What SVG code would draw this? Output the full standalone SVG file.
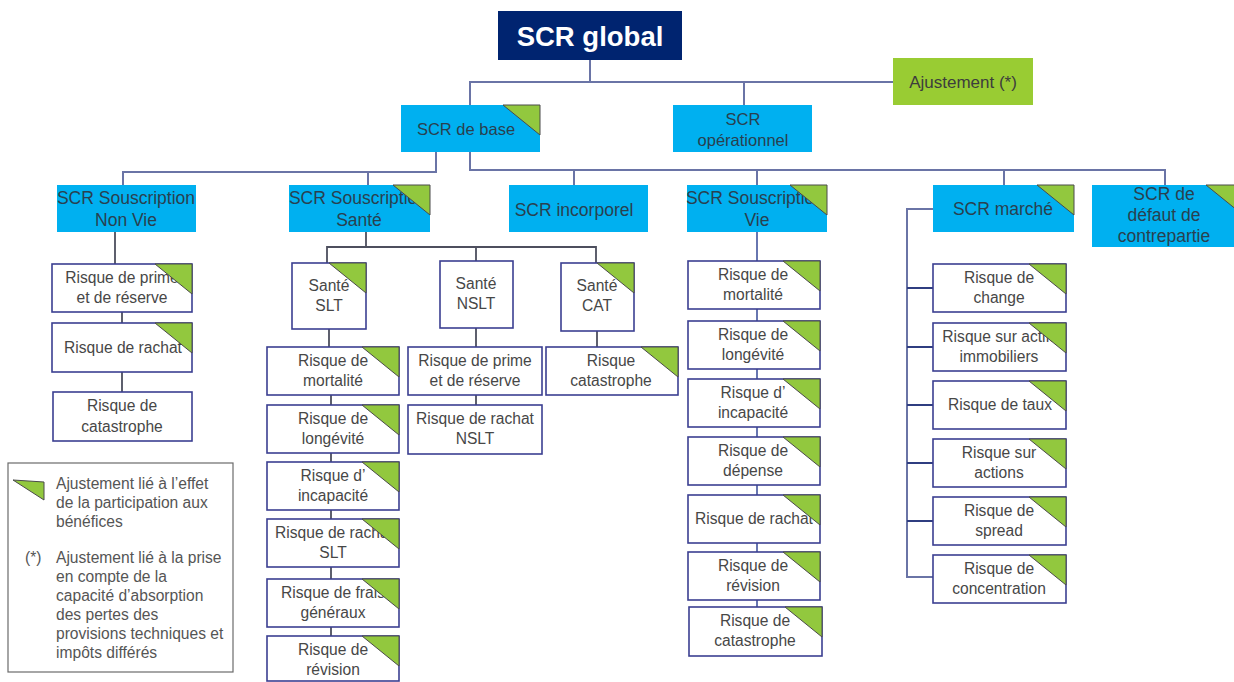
<svg xmlns="http://www.w3.org/2000/svg" xmlns:xlink="http://www.w3.org/1999/xlink" width="1234" height="682" viewBox="0 0 1234 682">
<style>
text{font-family:"Liberation Sans",Arial,sans-serif;text-anchor:middle}
.nav{fill:#002470}
.cy{fill:#00b0f0}
.gr{fill:#99cc33}
.wb{fill:#ffffff;stroke:#3b3f91;stroke-width:1.6}
.t{font-size:15.6px;fill:#474747}
.tb{font-size:17.5px;fill:#29404f}
.lg{font-size:15.6px;fill:#555555;text-anchor:start}
.c1{fill:none;stroke:#6a74a6;stroke-width:2}
.c2{fill:none;stroke:#4d4f5e;stroke-width:1.8}
.c3{fill:none;stroke:#5868a8;stroke-width:1.8}
.c4{fill:none;stroke:#2f3d80;stroke-width:2}
</style>
<defs>
<path id="tri" d="M-37,0 H0 V30 Z" fill="#92c83e" stroke="#4a4a4a" stroke-width="1"/>
</defs>
<rect width="1234" height="682" fill="#ffffff"/>

<g id="connectors">
<path class="c1" d="M590,60 V82 M470,105 V82 H893 M744,82 V105"/>
<path class="c1" d="M436,152 V172 H123 V185 M368,172 V185"/>
<path class="c1" d="M470,152 V170 H1165 V185 M574,170 V185 M757,170 V185 M1004,170 V185"/>
<path class="c2" d="M115,232 V264 M122,312 V323 M122,372 V392"/>
<path class="c2" d="M366,232 V247 M327,263 V247 H596 V263 M476,247 V261"/>
<path class="c2" d="M329,329 V347 M331,395 V405 M331,453 V462 M331,510 V519 M331,567 V579 M331,627 V636"/>
<path class="c2" d="M476,328 V347 M476,395 V405"/>
<path class="c2" d="M597,331 V347"/>
<path class="c3" d="M757,232 V261 M757,309 V321 M757,369 V379 M757,427 V437 M757,485 V495 M757,543 V552 M757,600 V607"/>
<path class="c1" d="M933,209 H907 V577 H933"/>
<path class="c4" d="M907,288 H933 M907,347 H933 M907,405 H933 M907,463 H933 M907,521 H933"/>
</g>

<g id="scr-global"><rect class="nav" x="498" y="11" width="184" height="49"/><text x="590" y="46" style="font-size:27.5px;font-weight:bold;fill:#ffffff">SCR global</text></g>
<g id="ajustement"><rect class="gr" x="893" y="58" width="140" height="47"/><text class="t" x="963" y="88" style="font-size:17px;fill:#3d3d3d">Ajustement (*)</text></g>
<g id="scr-base"><rect class="cy" x="401" y="105" width="139" height="47"/><text class="tb" x="466" y="135" style="font-size:16.5px">SCR de base</text><use xlink:href="#tri" transform="translate(540,105)"/></g>
<g id="scr-oper"><rect class="cy" x="673" y="105" width="139" height="47"/><text class="tb" x="743" y="125" style="font-size:16.5px">SCR</text><text class="tb" x="743" y="146" style="font-size:16.5px">opérationnel</text></g>

<g id="l2-nonvie"><rect class="cy" x="57" y="185" width="139" height="47"/><text class="tb" x="126" y="204">SCR Souscription</text><text class="tb" x="126" y="226">Non Vie</text></g>
<g id="l2-sante"><rect class="cy" x="289" y="185" width="141" height="47"/><text class="tb" x="358" y="204">SCR Souscription</text><text class="tb" x="359" y="226">Santé</text><use xlink:href="#tri" transform="translate(430,185)"/></g>
<g id="l2-incorp"><rect class="cy" x="509" y="185" width="139" height="47"/><text class="tb" x="574" y="216">SCR incorporel</text></g>
<g id="l2-vie"><rect class="cy" x="687" y="185" width="140" height="47"/><text class="tb" x="755" y="204">SCR Souscription</text><text class="tb" x="757" y="226">Vie</text><use xlink:href="#tri" transform="translate(827,185)"/></g>
<g id="l2-marche"><rect class="cy" x="933" y="185" width="141" height="47"/><text class="tb" x="1003" y="215">SCR marché</text><use xlink:href="#tri" transform="translate(1074,185)"/></g>
<g id="l2-defaut"><rect class="cy" x="1092" y="185" width="146" height="62"/><text class="tb" x="1164" y="200">SCR de</text><text class="tb" x="1164" y="221">défaut de</text><text class="tb" x="1164" y="242">contrepartie</text><use xlink:href="#tri" transform="translate(1243,185)"/></g>

<g id="nv-prime"><rect class="wb" x="52" y="264" width="140" height="48"/><text class="t" x="122" y="283">Risque de prime</text><text class="t" x="122" y="303">et de réserve</text><use xlink:href="#tri" transform="translate(192,264)"/></g>
<g id="nv-rachat"><rect class="wb" x="52" y="323" width="140" height="49"/><text class="t" x="123" y="353">Risque de rachat</text><use xlink:href="#tri" transform="translate(192,323)"/></g>
<g id="nv-cat"><rect class="wb" x="53" y="392" width="139" height="49"/><text class="t" x="122" y="411">Risque de</text><text class="t" x="122" y="432">catastrophe</text></g>

<g id="sante-slt"><rect class="wb" x="292" y="263" width="74" height="66"/><text class="t" x="329" y="291">Santé</text><text class="t" x="329" y="311">SLT</text><use xlink:href="#tri" transform="translate(366,263)"/></g>
<g id="sante-nslt"><rect class="wb" x="440" y="261" width="73" height="67"/><text class="t" x="476" y="289">Santé</text><text class="t" x="476" y="309">NSLT</text></g>
<g id="sante-cat"><rect class="wb" x="561" y="263" width="73" height="68"/><text class="t" x="597" y="291">Santé</text><text class="t" x="597" y="311">CAT</text><use xlink:href="#tri" transform="translate(634,263)"/></g>

<g id="slt-mort"><rect class="wb" x="267" y="347" width="132" height="48"/><text class="t" x="333" y="366">Risque de</text><text class="t" x="333" y="386">mortalité</text><use xlink:href="#tri" transform="translate(399,347)"/></g>
<g id="slt-long"><rect class="wb" x="267" y="405" width="132" height="48"/><text class="t" x="333" y="424">Risque de</text><text class="t" x="333" y="444">longévité</text><use xlink:href="#tri" transform="translate(399,405)"/></g>
<g id="slt-incap"><rect class="wb" x="267" y="462" width="132" height="48"/><text class="t" x="333" y="481">Risque d’</text><text class="t" x="333" y="501">incapacité</text><use xlink:href="#tri" transform="translate(399,462)"/></g>
<g id="slt-rachat"><rect class="wb" x="267" y="519" width="132" height="48"/><text class="t" x="334" y="538">Risque de rachat</text><text class="t" x="333" y="558">SLT</text><use xlink:href="#tri" transform="translate(399,519)"/></g>
<g id="slt-frais"><rect class="wb" x="267" y="579" width="132" height="48"/><text class="t" x="333" y="598">Risque de frais</text><text class="t" x="333" y="618">généraux</text><use xlink:href="#tri" transform="translate(399,579)"/></g>
<g id="slt-rev"><rect class="wb" x="267" y="636" width="132" height="45"/><text class="t" x="333" y="655">Risque de</text><text class="t" x="333" y="675">révision</text><use xlink:href="#tri" transform="translate(399,636)"/></g>

<g id="nslt-prime"><rect class="wb" x="408" y="347" width="134" height="48"/><text class="t" x="475" y="366">Risque de prime</text><text class="t" x="475" y="386">et de réserve</text></g>
<g id="nslt-rachat"><rect class="wb" x="408" y="405" width="134" height="49"/><text class="t" x="475" y="424">Risque de rachat</text><text class="t" x="475" y="444">NSLT</text></g>

<g id="cat-cat"><rect class="wb" x="546" y="347" width="132" height="48"/><text class="t" x="611" y="366">Risque</text><text class="t" x="611" y="386">catastrophe</text><use xlink:href="#tri" transform="translate(678,347)"/></g>

<g id="vie-mort"><rect class="wb" x="688" y="261" width="132" height="48"/><text class="t" x="753" y="280">Risque de</text><text class="t" x="753" y="300">mortalité</text><use xlink:href="#tri" transform="translate(820,261)"/></g>
<g id="vie-long"><rect class="wb" x="688" y="321" width="132" height="48"/><text class="t" x="753" y="340">Risque de</text><text class="t" x="753" y="360">longévité</text><use xlink:href="#tri" transform="translate(820,321)"/></g>
<g id="vie-incap"><rect class="wb" x="688" y="379" width="132" height="48"/><text class="t" x="753" y="398">Risque d’</text><text class="t" x="753" y="418">incapacité</text><use xlink:href="#tri" transform="translate(820,379)"/></g>
<g id="vie-dep"><rect class="wb" x="688" y="437" width="132" height="48"/><text class="t" x="753" y="456">Risque de</text><text class="t" x="753" y="476">dépense</text><use xlink:href="#tri" transform="translate(820,437)"/></g>
<g id="vie-rachat"><rect class="wb" x="688" y="495" width="132" height="48"/><text class="t" x="754" y="524">Risque de rachat</text><use xlink:href="#tri" transform="translate(820,495)"/></g>
<g id="vie-rev"><rect class="wb" x="688" y="552" width="132" height="48"/><text class="t" x="753" y="571">Risque de</text><text class="t" x="753" y="591">révision</text><use xlink:href="#tri" transform="translate(820,552)"/></g>
<g id="vie-cat"><rect class="wb" x="689" y="607" width="133" height="49"/><text class="t" x="755" y="626">Risque de</text><text class="t" x="755" y="646">catastrophe</text><use xlink:href="#tri" transform="translate(822,607)"/></g>

<g id="m-change"><rect class="wb" x="933" y="264" width="133" height="48"/><text class="t" x="999" y="283">Risque de</text><text class="t" x="999" y="303">change</text><use xlink:href="#tri" transform="translate(1066,264)"/></g>
<g id="m-immo"><rect class="wb" x="933" y="323" width="133" height="48"/><text class="t" x="1000" y="342">Risque sur actifs</text><text class="t" x="999" y="362">immobiliers</text><use xlink:href="#tri" transform="translate(1066,323)"/></g>
<g id="m-taux"><rect class="wb" x="933" y="381" width="133" height="48"/><text class="t" x="1000" y="410">Risque de taux</text><use xlink:href="#tri" transform="translate(1066,381)"/></g>
<g id="m-actions"><rect class="wb" x="933" y="439" width="133" height="48"/><text class="t" x="999" y="458">Risque sur</text><text class="t" x="999" y="478">actions</text><use xlink:href="#tri" transform="translate(1066,439)"/></g>
<g id="m-spread"><rect class="wb" x="933" y="497" width="133" height="48"/><text class="t" x="999" y="516">Risque de</text><text class="t" x="999" y="536">spread</text><use xlink:href="#tri" transform="translate(1066,497)"/></g>
<g id="m-conc"><rect class="wb" x="933" y="555" width="133" height="48"/><text class="t" x="999" y="574">Risque de</text><text class="t" x="999" y="594">concentration</text><use xlink:href="#tri" transform="translate(1066,555)"/></g>

<g id="legend">
<rect x="8" y="463" width="225" height="209" fill="#ffffff" stroke="#6b6b6b" stroke-width="1.2"/>
<path d="M13,480 L44,482 V500 Z" fill="#92c83e" stroke="#4a4a4a" stroke-width="1"/>
<text class="lg" x="56" y="489">Ajustement lié à l’effet</text>
<text class="lg" x="56" y="508">de la participation aux</text>
<text class="lg" x="56" y="527">bénéfices</text>
<text class="lg" x="25" y="563">(*)</text>
<text class="lg" x="56" y="563">Ajustement lié à la prise</text>
<text class="lg" x="56" y="582">en compte de la</text>
<text class="lg" x="56" y="601">capacité d’absorption</text>
<text class="lg" x="56" y="620">des pertes des</text>
<text class="lg" x="56" y="639">provisions techniques et</text>
<text class="lg" x="56" y="658">impôts différés</text>
</g>
</svg>
